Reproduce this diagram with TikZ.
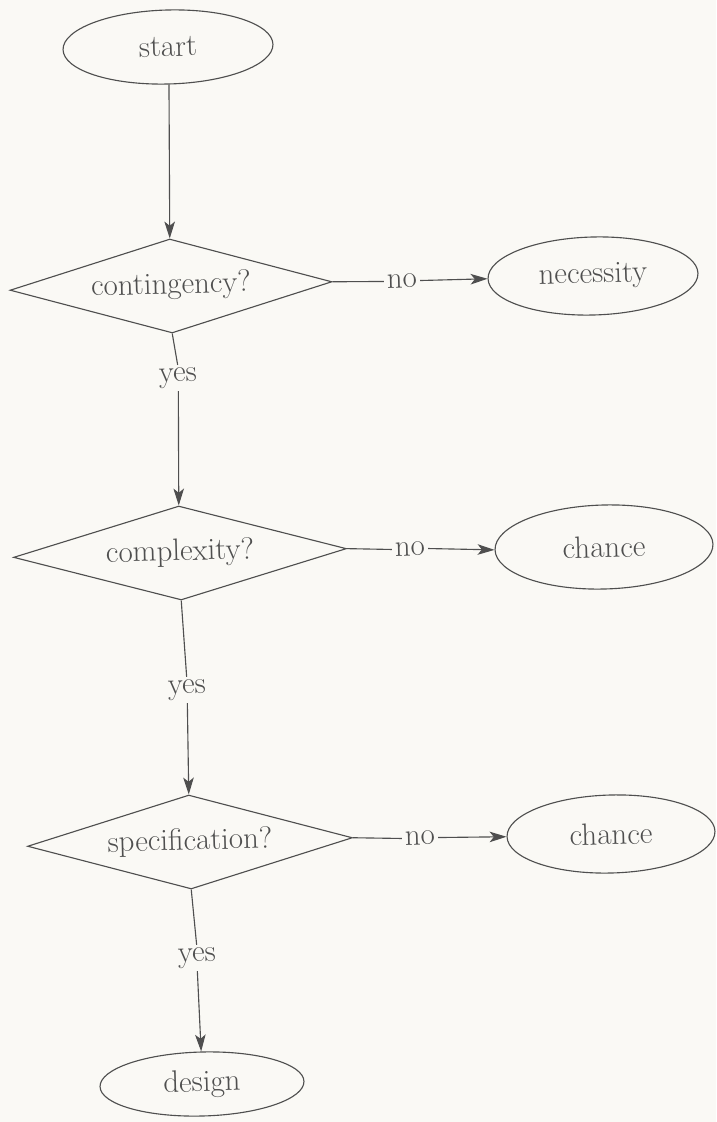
\documentclass[tikz,border=0pt]{standalone}
\usetikzlibrary{shapes.geometric,arrows.meta}
\definecolor{ink}{HTML}{4F4F4F}
\definecolor{paper}{HTML}{FAF9F5}
\begin{document}
\begin{tikzpicture}[x=0.025cm,y=-0.025cm,
  every node/.style={text=ink,font=\fontsize{22}{26}\selectfont,rotate=1.5},
  oval/.style={ellipse,draw=ink,line width=0.8pt,inner sep=0pt},
  decision/.style={diamond,draw=ink,line width=0.8pt,inner sep=0pt,minimum height=94*0.025cm},
  lbl/.style={inner sep=2pt},
  conn/.style={draw=ink,line width=0.8pt},
  arr/.style={conn,-{Stealth[length=12pt,width=7.5pt,inset=3pt]}}]
\fill[paper] (0,0) rectangle (716,1122);
\useasboundingbox (0,0) rectangle (716,1122);
\node[oval,minimum width=210*0.025cm,minimum height=74*0.025cm] (start) at (168,47) {start};
\node[decision,aspect=3.43,minimum width=322*0.025cm] (cont) at (171,286) {contingency?};
\node[oval,minimum width=210*0.025cm,minimum height=78*0.025cm] (nec) at (593,276) {necessity};
\node[decision,aspect=3.5,minimum width=333*0.025cm] (comp) at (180,553) {complexity?};
\node[oval,minimum width=218*0.025cm,minimum height=84*0.025cm] (ch1) at (604,547) {chance};
\node[decision,aspect=3.49,minimum width=325*0.025cm] (spec) at (190,842) {specification?};
\node[oval,minimum width=208*0.025cm,minimum height=78*0.025cm] (ch2) at (611,834) {chance};
\node[oval,minimum width=204*0.025cm,minimum height=64*0.025cm] (des) at (202,1084) {design};
\node[lbl] (no1) at (402,281) {no};
\node[lbl] (no2) at (410,549) {no};
\node[lbl] (no3) at (420,838) {no};
\node[lbl] (yes1) at (178,378) {yes};
\node[lbl] (yes2) at (187,690) {yes};
\node[lbl] (yes3) at (197,958) {yes};
\draw[arr] (start.south) -- (cont.north);
\draw[conn] (cont.east) -- (no1.west);
\draw[arr] (no1.east) -- (nec.west);
\draw[conn] (cont.south) -- (yes1.north);
\draw[arr] (yes1.south) -- (comp.north);
\draw[conn] (comp.east) -- (no2.west);
\draw[arr] (no2.east) -- (ch1.west);
\draw[conn] (comp.south) -- (yes2.north);
\draw[arr] (yes2.south) -- (spec.north);
\draw[conn] (spec.east) -- (no3.west);
\draw[arr] (no3.east) -- (ch2.west);
\draw[conn] (spec.south) -- (yes3.north);
\draw[arr] (yes3.south) -- (des.north);
\end{tikzpicture}
\end{document}
